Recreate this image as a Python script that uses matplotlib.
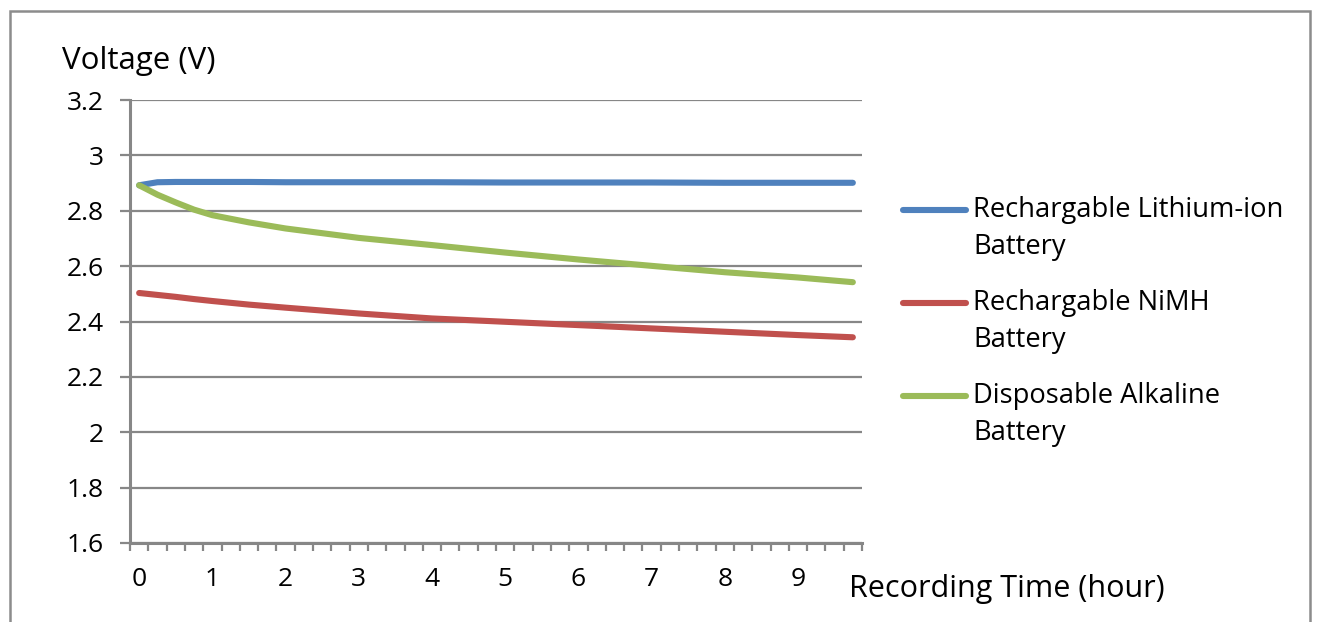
import matplotlib
matplotlib.use("Agg")
import matplotlib.pyplot as plt
from matplotlib.lines import Line2D
from matplotlib.patches import Rectangle

plt.rcParams['font.family'] = ['Open Sans', 'DejaVu Sans']

# readings (hours, volts)
hours = [0, 0.25, 0.5, 0.75, 1, 1.5, 2, 3, 4, 5, 6, 7, 8, 9, 9.75]
lithium = [2.892, 2.903, 2.904, 2.904, 2.904, 2.904, 2.903, 2.903, 2.903, 2.902, 2.902, 2.902, 2.901, 2.901, 2.901]
nimh = [2.503, 2.496, 2.489, 2.481, 2.474, 2.461, 2.450, 2.429, 2.411, 2.399, 2.387, 2.375, 2.363, 2.351, 2.343]
alkaline = [2.892, 2.858, 2.830, 2.804, 2.784, 2.758, 2.736, 2.702, 2.676, 2.649, 2.624, 2.601, 2.578, 2.559, 2.542]

series_names = ["Rechargable Lithium-ion\nBattery", "Rechargable NiMH\nBattery",
                "Disposable Alkaline\nBattery"]
colors = ["#4F81BD", "#C0504D", "#9BBB59"]
y_ticks = [1.6, 1.8, 2, 2.2, 2.4, 2.6, 2.8, 3, 3.2]
x_labels = list(range(10))

W, H = 1318, 622
fig = plt.figure(figsize=(W / 100, H / 100), dpi=100)
ax = fig.add_axes([130 / W, 1 - 543 / H, 732 / W, 443 / H])

grey = "#878787"
for vals, c in zip([lithium, nimh, alkaline], colors):
    ax.plot(hours, vals, color=c, lw=4.4, solid_capstyle='round', solid_joinstyle='round')

ax.set_ylim(1.6, 3.2)
ax.set_yticks(y_ticks)
ax.set_yticklabels([f"{v:g}" for v in y_ticks])
ax.set_xlim(-0.125, 9.875)
ax.set_xticks([-0.125 + 0.25 * k for k in range(41)])
ax.set_xticklabels([])
ax.set_xticks(x_labels, minor=True)
ax.set_xticklabels([str(v) for v in x_labels], minor=True)
ax.tick_params(axis='x', which='major', direction='out', length=6, width=1.6, color=grey)
ax.tick_params(axis='x', which='minor', length=0, pad=17, labelsize=19)
ax.tick_params(axis='y', direction='out', length=7, width=1.6, color=grey, pad=12, labelsize=19)
ax.grid(axis='y', color=grey, lw=1.6)
ax.set_axisbelow(True)
for s in ['top', 'right']:
    ax.spines[s].set_visible(False)
for s in ['left', 'bottom']:
    ax.spines[s].set_color(grey)
    ax.spines[s].set_linewidth(2.2)

fig.text(62 / W, 1 - 61 / H, "Voltage (V)", fontsize=22.5, va='center', ha='left')
fig.text(849 / W, 1 - 589 / H, "Recording Time (hour)", fontsize=22, va='center', ha='left')

# legend
for i, (name, c) in enumerate(zip(series_names, colors)):
    y0 = 210 + i * 93
    fig.add_artist(Line2D([903 / W, 966 / W], [1 - y0 / H, 1 - y0 / H], color=c, lw=4.4,
                          solid_capstyle='round'))
    first, second = name.split("\n")
    fig.text(973 / W, 1 - y0 / H, first, fontsize=19.7, va='center', ha='left')
    fig.text(973 / W, 1 - (y0 + 37) / H, second, fontsize=19.7, va='center', ha='left')

fig.add_artist(Rectangle((10 / W, -0.1), 1300 / W, 1.1 - 11 / H, transform=fig.transFigure,
                         fill=False, edgecolor="#8c8c8c", lw=1.8))

fig.savefig("out.png", dpi=100)
